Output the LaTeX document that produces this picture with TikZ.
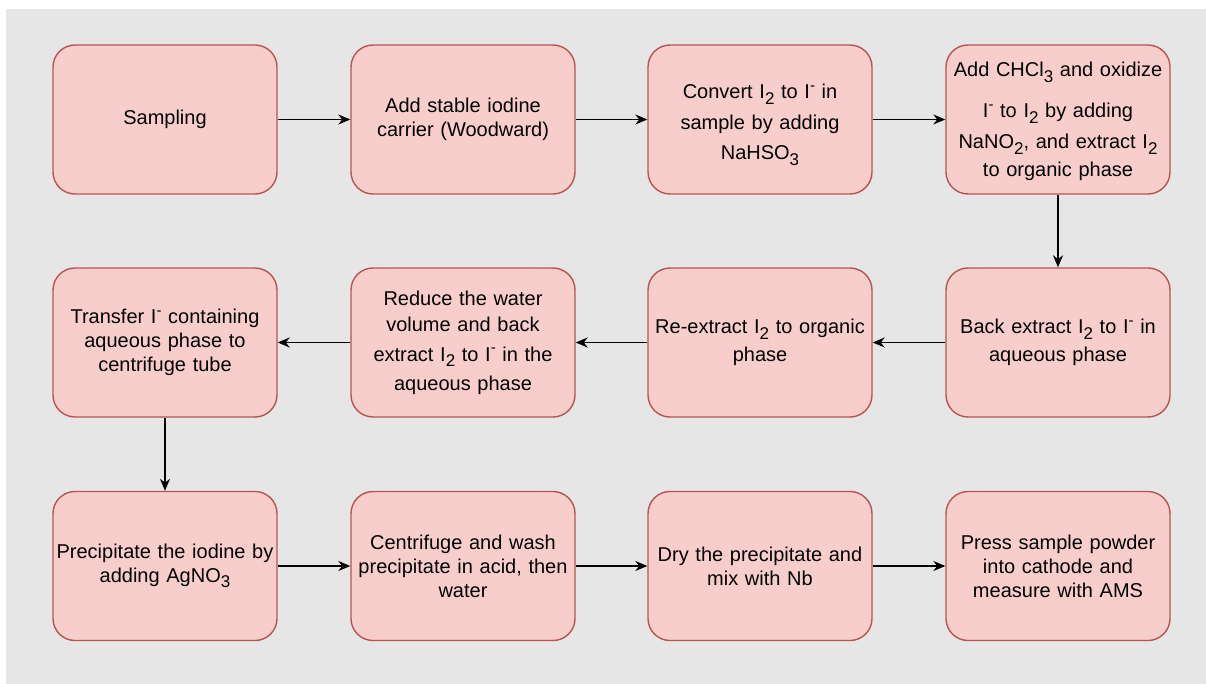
\documentclass[tikz,border=0pt]{standalone}
\usepackage{fontspec}
\setmainfont{Liberation Sans}
\usetikzlibrary{arrows.meta}
\definecolor{boxfill}{HTML}{F8CECC}
\definecolor{boxdraw}{HTML}{B85450}
\definecolor{bggray}{HTML}{E6E6E6}
\newcommand{\dn}[1]{\raisebox{-0.28em}{\fontsize{17}{17}\selectfont #1}}
\newcommand{\mn}{\raisebox{0.42em}{\fontsize{15}{15}\selectfont -}}
\tikzset{
  stepbox/.style={draw=boxdraw, fill=boxfill, line width=1.4pt, rounded corners=22pt,
    minimum width=224pt, minimum height=149pt, align=center, text width=222pt,
    inner sep=0pt, font=\fontsize{20}{24}\selectfont},
  flow/.style={line width=1.4pt, -{Stealth[length=12pt,width=10pt]}}
}
\begin{document}
\begin{tikzpicture}[x=1pt,y=-1pt]
\useasboundingbox (0,0) rectangle (1206,684);
\fill[bggray] (6,9) rectangle (1206,684);
% row 1
\node[stepbox] (n1) at (165,119.5) {Sampling};
\node[stepbox] (n2) at (463,119.5) {Add stable iodine\\carrier (Woodward)};
\node[stepbox] (n3) at (760,119.5) {\rule{0pt}{24.6pt}Convert I\dn2 to I\mn{} in\\[7pt]sample by adding\\[6pt]NaHSO\dn3};
\node[stepbox] (n4) at (1058,119.5) {\rule{0pt}{18.6pt}Add CHCl\dn3 and oxidize\\[17pt]I\mn{} to I\dn2 by adding\\[7pt]NaNO\dn2, and extract I\dn2\\[4pt]to organic phase};
% row 2
\node[stepbox] (n5) at (1058,342.5) {Back extract I\dn2 to I\mn{} in\\[4pt]aqueous phase};
\node[stepbox] (n6) at (760,342.5) {Re-extract I\dn2 to organic\\[4pt]phase};
\node[stepbox] (n7) at (463,342.5) {Reduce the water\\[2pt]volume and back\\[6pt]extract I\dn2 to I\mn{} in the\\[5pt]aqueous phase};
\node[stepbox] (n8) at (165,342.5) {Transfer I\mn{} containing\\aqueous phase to\\centrifuge tube};
% row 3
\node[stepbox] (n9) at (165,566) {Precipitate the iodine by\\adding AgNO\dn3};
\node[stepbox] (n10) at (463,566) {Centrifuge and wash\\precipitate in acid, then\\water};
\node[stepbox] (n11) at (760,566) {Dry the precipitate and\\mix with Nb};
\node[stepbox] (n12) at (1058,566) {Press sample powder\\into cathode and\\measure with AMS};
% connectors
\draw[flow] (n1) -- (n2);
\draw[flow] (n2) -- (n3);
\draw[flow] (n3) -- (n4);
\draw[flow] (n4) -- (n5);
\draw[flow] (n5) -- (n6);
\draw[flow] (n6) -- (n7);
\draw[flow] (n7) -- (n8);
\draw[flow] (n8) -- (n9);
\draw[flow] (n9) -- (n10);
\draw[flow] (n10) -- (n11);
\draw[flow] (n11) -- (n12);
\end{tikzpicture}
\end{document}
